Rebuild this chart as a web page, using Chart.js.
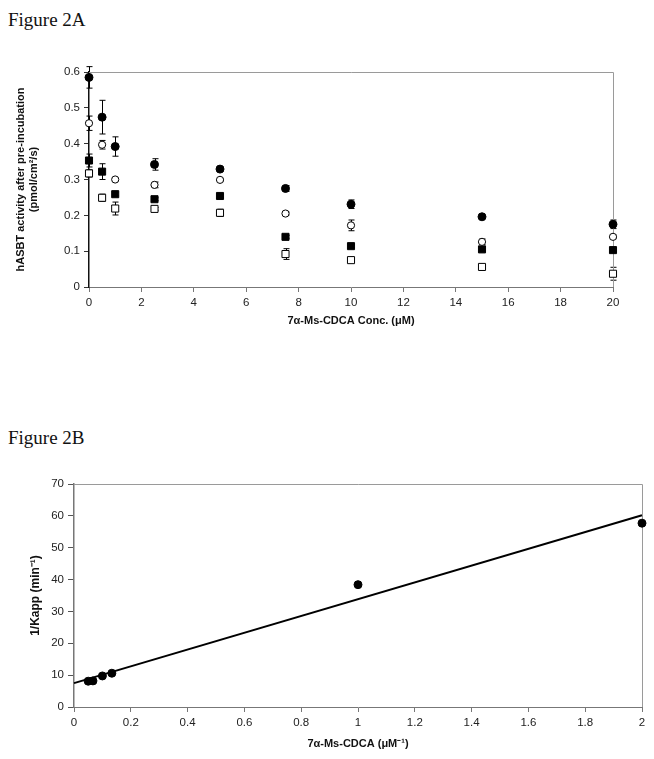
<!DOCTYPE html>
<html><head><meta charset="utf-8">
<script src="https://cdn.jsdelivr.net/npm/chart.js@4/dist/chart.umd.min.js"></script>
<style>
body{margin:0;background:#fff;width:654px;height:759px;position:relative;overflow:hidden}
.fig{position:absolute;left:8px;font-family:"Liberation Serif","Times New Roman",serif;font-size:19px;color:#111;line-height:22px}
canvas{position:absolute;left:0}
</style></head><body>
<div class="fig" style="top:9px">Figure 2A</div>
<div class="fig" style="top:427px">Figure 2B</div>
<canvas id="ca" width="654" height="340" style="top:0"></canvas>
<canvas id="cb" width="654" height="319" style="top:440px"></canvas>
<script>
// ---- Figure 2A data ----
const concA = [0, 0.5, 1, 2.5, 5, 7.5, 10, 15, 20];
const fillCircle    = [0.585, 0.474, 0.392, 0.342, 0.329, 0.275, 0.231, 0.196, 0.175];
const fillCircleErr = [0.030, 0.047, 0.027, 0.016, 0.006, 0.008, 0.012, 0.004, 0.012];
const openCircle    = [0.457, 0.397, 0.300, 0.285, 0.299, 0.205, 0.172, 0.126, 0.140];
const openCircleErr = [0.020, 0.012, 0.004, 0.008, 0.004, 0.004, 0.015, 0.008, 0.005];
const fillSquare    = [0.353, 0.322, 0.259, 0.245, 0.254, 0.140, 0.114, 0.105, 0.103];
const fillSquareErr = [0.018, 0.022, 0.004, 0.004, 0.004, 0.004, 0.004, 0.004, 0.004];
const openSquare    = [0.317, 0.249, 0.219, 0.218, 0.207, 0.092, 0.075, 0.056, 0.037];
const openSquareErr = [0.010, 0.010, 0.018, 0.004, 0.010, 0.015, 0.004, 0.004, 0.018];
const yTicksA = [0, 0.1, 0.2, 0.3, 0.4, 0.5, 0.6];
const xTicksA = [0, 2, 4, 6, 8, 10, 12, 14, 16, 18, 20];

// ---- Figure 2B data ----
const invConc = [0.05, 0.0667, 0.1, 0.1333, 1, 2];
const invKapp = [8.1, 8.2, 9.75, 10.6, 38.4, 57.7];
const fitX = [0, 2];
const fitY = [7.5, 60.2];
const yTicksB = [0, 10, 20, 30, 40, 50, 60, 70];
const xTicksB = [0, 0.2, 0.4, 0.6, 0.8, 1, 1.2, 1.4, 1.6, 1.8, 2];

const tickFont = {family: '"Liberation Sans", Arial, sans-serif', size: 11.5};
const titleFont = {family: '"Liberation Sans", Arial, sans-serif', size: 11, weight: 'bold'};
const titleFontB = {family: '"Liberation Sans", Arial, sans-serif', size: 12, weight: 'bold'};
const fmt = v => String(+(+v).toFixed(2));

const pts = (xs, ys) => xs.map((x, i) => ({x: x, y: ys[i]}));

const errPlugin = {
  id: 'errbars',
  beforeDatasetsDraw(chart) {
    const ctx = chart.ctx, xs = chart.scales.x, ys = chart.scales.y;
    chart.data.datasets.forEach(ds => {
      if (!ds.err) return;
      ctx.save();
      ctx.strokeStyle = '#000'; ctx.lineWidth = 1;
      ds.data.forEach((p, j) => {
        const e = ds.err[j]; if (!e) return;
        const x = Math.round(xs.getPixelForValue(p.x)) + 0.5;
        const y1 = ys.getPixelForValue(p.y + e), y2 = ys.getPixelForValue(p.y - e);
        ctx.beginPath();
        ctx.moveTo(x, y1); ctx.lineTo(x, y2);
        ctx.moveTo(x - 3, y1); ctx.lineTo(x + 3, y1);
        ctx.moveTo(x - 3, y2); ctx.lineTo(x + 3, y2);
        ctx.stroke();
      });
      ctx.restore();
    });
  }
};
const framePlugin = {
  id: 'frame',
  beforeDatasetsDraw(chart) {
    const a = chart.chartArea, ctx = chart.ctx;
    ctx.save(); ctx.strokeStyle = '#9a9a9a'; ctx.lineWidth = 1;
    ctx.beginPath();
    ctx.moveTo(a.left, Math.round(a.top) + 0.5); ctx.lineTo(Math.round(a.right) + 0.5, Math.round(a.top) + 0.5);
    ctx.lineTo(Math.round(a.right) + 0.5, a.bottom);
    ctx.stroke(); ctx.restore();
  }
};

function ticksFrom(arr) {
  return function(scale) { scale.ticks = arr.map(v => ({value: v})); };
}

new Chart(document.getElementById('ca'), {
  type: 'scatter',
  data: {datasets: [
    {data: pts(concA, fillCircle), err: fillCircleErr, pointStyle: 'circle', pointRadius: 4, backgroundColor: '#000', borderColor: '#000', borderWidth: 1, clip: false},
    {data: pts(concA, openCircle), err: openCircleErr, pointStyle: 'circle', pointRadius: 3.6, backgroundColor: '#fff', borderColor: '#000', borderWidth: 1, clip: false},
    {data: pts(concA, fillSquare), err: fillSquareErr, pointStyle: 'rect', pointRadius: 5, backgroundColor: '#000', borderColor: '#000', borderWidth: 1, clip: false},
    {data: pts(concA, openSquare), err: openSquareErr, pointStyle: 'rect', pointRadius: 5, backgroundColor: '#fff', borderColor: '#000', borderWidth: 1, clip: false}
  ]},
  options: {
    responsive: false, animation: false, events: [],
    layout: {padding: {top: 72, right: 41, left: 0, bottom: 0}},
    plugins: {legend: {display: false}, tooltip: {enabled: false}},
    scales: {
      x: {type: 'linear', min: 0, max: 20, afterBuildTicks: ticksFrom(xTicksA),
          afterFit: s => { s.height = 53; },
          border: {color: '#777', width: 1},
          grid: {drawOnChartArea: false, tickLength: 5, color: '#777'},
          ticks: {font: tickFont, color: '#222', padding: 4, maxRotation: 0, callback: fmt},
          title: {display: true, text: '7α-Ms-CDCA Conc. (μM)', font: titleFont, color: '#111', padding: {top: 2, bottom: 12}}},
      y: {type: 'linear', min: 0, max: 0.6, afterBuildTicks: ticksFrom(yTicksA),
          afterFit: s => { s.width = 89; },
          border: {color: '#111', width: 1.5},
          grid: {drawOnChartArea: false, tickLength: 5, color: '#333'},
          ticks: {font: tickFont, color: '#222', padding: 4, callback: fmt},
          title: {display: true, text: ['hASBT activity after pre-incubation', '(pmol/cm²/s)'], font: titleFont, color: '#111', padding: {top: 14, bottom: 2}}}
    }
  },
  plugins: [errPlugin, framePlugin]
});

new Chart(document.getElementById('cb'), {
  type: 'scatter',
  data: {datasets: [
    {type: 'line', data: pts(fitX, fitY), borderColor: '#000', borderWidth: 2, pointRadius: 0, fill: false, clip: false},
    {data: pts(invConc, invKapp), pointStyle: 'circle', pointRadius: 4, backgroundColor: '#000', borderColor: '#000', borderWidth: 1, clip: false}
  ]},
  options: {
    responsive: false, animation: false, events: [],
    layout: {padding: {top: 44, right: 12, left: 0, bottom: 0}},
    plugins: {legend: {display: false}, tooltip: {enabled: false}},
    scales: {
      x: {type: 'linear', min: 0, max: 2, afterBuildTicks: ticksFrom(xTicksB),
          afterFit: s => { s.height = 52; },
          border: {color: '#777', width: 1},
          grid: {drawOnChartArea: false, tickLength: 5, color: '#777'},
          ticks: {font: tickFont, color: '#222', padding: 4, maxRotation: 0, callback: fmt},
          title: {display: true, text: '7α-Ms-CDCA (μM⁻¹)', font: titleFont, color: '#111', padding: {top: 2, bottom: 8}}},
      y: {type: 'linear', min: 0, max: 70, afterBuildTicks: ticksFrom(yTicksB),
          afterFit: s => { s.width = 74; },
          border: {color: '#777', width: 1.5},
          grid: {drawOnChartArea: false, tickLength: 6, color: '#555'},
          ticks: {font: tickFont, color: '#222', padding: 4, callback: fmt},
          title: {display: true, text: '1/Kapp (min⁻¹)', font: titleFontB, color: '#111', padding: {top: 28, bottom: 4}}}
    }
  },
  plugins: [framePlugin]
});
</script>
</body></html>
